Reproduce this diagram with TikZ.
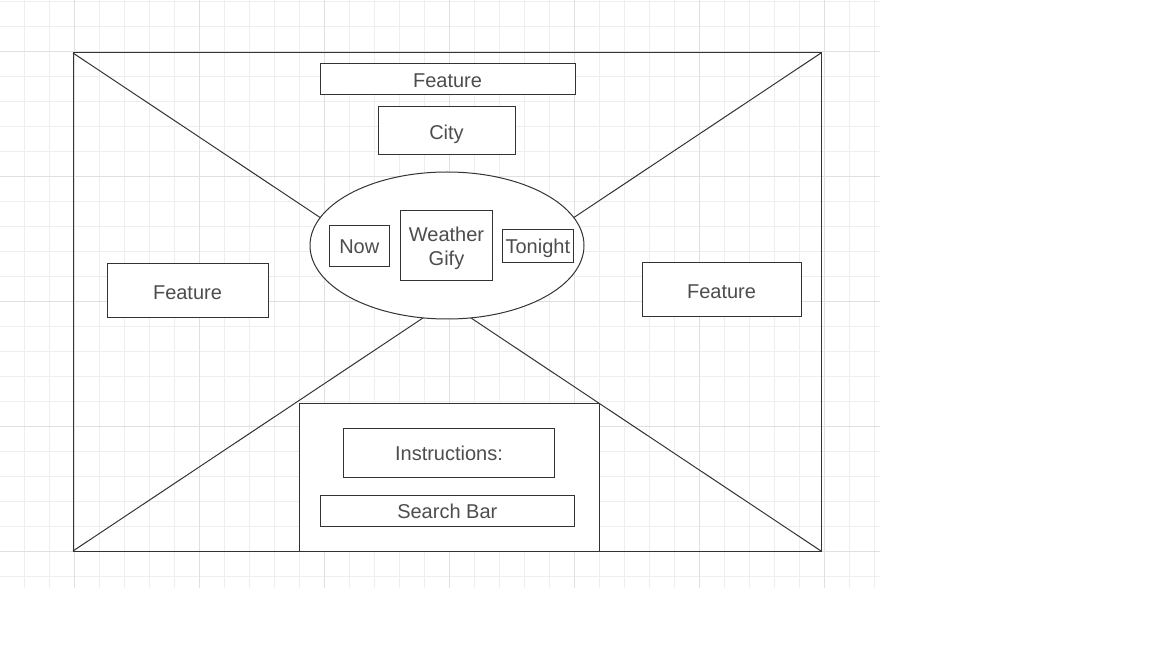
\documentclass[tikz,border=0pt]{standalone}
\usepackage{fontspec}
\setmainfont{Liberation Sans}
\usetikzlibrary{shapes.geometric}
\definecolor{ln}{HTML}{333333}
\definecolor{tx}{HTML}{4D4D4D}
\definecolor{gmin}{HTML}{EEEEEE}
\definecolor{gmaj}{HTML}{E0E0E0}
\begin{document}
\begin{tikzpicture}[x=0.75pt,y=-0.75pt,
  box/.style={draw=ln, fill=white, line width=0.75pt, inner sep=0pt, outer sep=0pt,
    text=tx, font=\fontsize{15}{18}\selectfont, align=center},
  one/.style={text height=15.8pt, text depth=3.6pt},
  edge/.style={draw=ln, line width=0.75pt},
  minor/.style={draw=gmin, line width=0.75pt},
  major/.style={draw=gmaj, line width=0.75pt}]
\useasboundingbox[fill=white] (0,0) rectangle (1152,648);
% grid
\foreach \i in {0,...,34} {\draw[minor] ({24.7+25*\i},0) -- ({24.7+25*\i},588);}
\foreach \i in {0,...,23} {\draw[minor] (0,{1.7+25*\i}) -- (880,{1.7+25*\i});}
\foreach \i in {0,...,6} {\draw[major] ({74.7+125*\i},0) -- ({74.7+125*\i},588);}
\foreach \i in {0,...,4} {\draw[major] (0,{51.7+125*\i}) -- (880,{51.7+125*\i});}
% frame
\coordinate (tl) at (73,53);
\coordinate (tr) at (821,53);
\coordinate (bl) at (73,551);
\coordinate (br) at (821,551);
\draw[edge] (tl) rectangle (br);
\draw[edge] (tl) -- (br);
\draw[edge] (tr) -- (bl);
% center ellipse
\node[box, ellipse, minimum width=205.5pt, minimum height=110.25pt] (ell) at (447,245.5) {};
% boxes
\node[box, one, minimum width=191.25pt, minimum height=23.25pt] (ftop) at (447.5,79.5) {Feature};
\node[box, one, minimum width=102.75pt, minimum height=36pt] (city) at (446.5,131) {City};
\node[box, one, minimum width=45pt, minimum height=30.75pt] (now) at (359.3,245.7) {Now};
\node[box, text height=33.4pt, text depth=3.2pt, minimum width=69.3pt, minimum height=52.5pt] (wg) at (446.5,245.2) {Weather\\Gify};
\node[box, one, minimum width=53.25pt, minimum height=24.75pt] (tonight) at (537.8,245.8) {Tonight};
\node[box, one, minimum width=120.75pt, minimum height=40.5pt] (fleft) at (187.5,291) {Feature};
\node[box, one, minimum width=119.25pt, minimum height=40.5pt] (fright) at (721.5,290) {Feature};
\node[box, minimum width=225.3pt, minimum height=110.8pt] (bottom) at (449.5,477.2) {};
\node[box, one, minimum width=158.55pt, minimum height=36.75pt] (instr) at (449,452.8) {Instructions:};
\node[box, one, minimum width=190.5pt, minimum height=23.25pt] (search) at (447.3,510.8) {Search Bar};
\end{tikzpicture}
\end{document}
